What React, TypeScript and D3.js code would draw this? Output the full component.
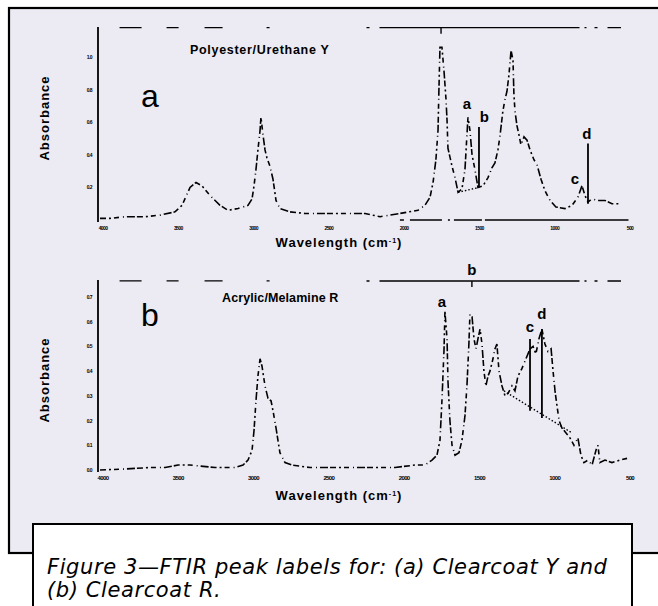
import React from "react";
import * as d3 from "d3";

const waveTicks = [4000, 3500, 3000, 2500, 2000, 1500, 1000, 500];
const absTicksA = [0.2, 0.4, 0.6, 0.8, 1.0];
const absTicksB = [0, 0.1, 0.2, 0.3, 0.4, 0.5, 0.6, 0.7];

// Panel a: Polyester/Urethane Y  [wavenumber, absorbance]
const specA: [number, number][] = [
  [4020, 0.01], [3954, 0.01], [3854, 0.02], [3721, 0.02], [3621, 0.03], [3522, 0.05],
  [3475, 0.09], [3422, 0.2], [3382, 0.23], [3343, 0.21], [3289, 0.15], [3223, 0.09],
  [3170, 0.06], [3103, 0.07], [3037, 0.09], [3010, 0.13], [2997, 0.21], [2984, 0.31],
  [2971, 0.43], [2957, 0.55], [2951, 0.63], [2937, 0.52], [2924, 0.43], [2911, 0.38],
  [2891, 0.33], [2871, 0.25], [2851, 0.12], [2825, 0.07], [2758, 0.05], [2659, 0.04],
  [2559, 0.04], [2459, 0.04], [2360, 0.04], [2260, 0.04], [2160, 0.02], [2028, 0.04],
  [1908, 0.06], [1862, 0.09], [1828, 0.14], [1808, 0.23], [1789, 0.37], [1775, 0.55],
  [1769, 0.8], [1762, 1.06], [1749, 1.06], [1735, 0.91], [1722, 0.74], [1715, 0.61],
  [1709, 0.44], [1682, 0.33], [1662, 0.26], [1642, 0.17], [1616, 0.19], [1596, 0.31],
  [1583, 0.52], [1576, 0.63], [1563, 0.55], [1549, 0.4], [1530, 0.31], [1510, 0.2],
  [1476, 0.21], [1443, 0.26], [1417, 0.32], [1397, 0.35], [1377, 0.43], [1363, 0.52],
  [1344, 0.67], [1330, 0.74], [1317, 0.79], [1304, 0.89], [1290, 1.04], [1277, 0.98],
  [1271, 0.77], [1264, 0.67], [1251, 0.58], [1237, 0.52], [1224, 0.46], [1204, 0.51],
  [1184, 0.49], [1164, 0.43], [1138, 0.37], [1118, 0.34], [1091, 0.25], [1065, 0.18],
  [1031, 0.12], [992, 0.08], [932, 0.07], [885, 0.09], [846, 0.14], [819, 0.21],
  [799, 0.15], [779, 0.11], [752, 0.13], [713, 0.12], [666, 0.12], [620, 0.1], [567, 0.1],
];

// Panel b: Acrylic/Melamine R
const specB: [number, number][] = [
  [4020, 0], [3854, 0.004], [3688, 0.01], [3588, 0.01], [3502, 0.02], [3422, 0.02],
  [3256, 0.01], [3123, 0.01], [3070, 0.02], [3037, 0.04], [3010, 0.08], [2997, 0.16],
  [2984, 0.28], [2971, 0.38], [2957, 0.45], [2944, 0.42], [2924, 0.34], [2904, 0.29],
  [2884, 0.28], [2871, 0.24], [2851, 0.17], [2838, 0.12], [2825, 0.07], [2791, 0.03],
  [2745, 0.02], [2625, 0.01], [2492, 0.01], [2326, 0.01], [2194, 0.01], [2061, 0.01],
  [1928, 0.02], [1862, 0.02], [1815, 0.04], [1782, 0.06], [1762, 0.12], [1749, 0.28],
  [1735, 0.49], [1729, 0.64], [1715, 0.53], [1709, 0.36], [1696, 0.2], [1682, 0.1],
  [1662, 0.06], [1636, 0.07], [1616, 0.12], [1596, 0.22], [1583, 0.34], [1570, 0.51],
  [1563, 0.63], [1549, 0.62], [1536, 0.53], [1523, 0.49], [1510, 0.53], [1496, 0.57],
  [1483, 0.51], [1470, 0.4], [1457, 0.34], [1443, 0.38], [1430, 0.4], [1410, 0.45],
  [1397, 0.49], [1384, 0.51], [1370, 0.4], [1350, 0.34], [1330, 0.3], [1310, 0.31],
  [1284, 0.34], [1264, 0.32], [1244, 0.38], [1218, 0.41], [1191, 0.45], [1164, 0.49],
  [1144, 0.5], [1125, 0.47], [1105, 0.53], [1085, 0.57], [1065, 0.51], [1045, 0.48],
  [1024, 0.49], [1011, 0.4], [998, 0.32], [985, 0.26], [971, 0.2], [952, 0.17],
  [925, 0.15], [899, 0.13], [872, 0.1], [846, 0.13], [826, 0.06], [806, 0.03],
  [779, 0.04], [752, 0.02], [726, 0.08], [713, 0.1], [700, 0.03], [666, 0.04],
  [620, 0.03], [567, 0.04], [500, 0.05],
];

// peak marker lines: label, wavenumber, top absorbance, base absorbance
const markersA = [
  { label: "b", wave: 1503, top: 0.57, base: 0.2 },
  { label: "d", wave: 779, top: 0.47, base: 0.1 },
];
const markersB = [
  { label: "c", wave: 1164, top: 0.53, base: 0.24 },
  { label: "d", wave: 1085, top: 0.57, base: 0.21 },
];
const peakLabelsA = [
  { label: "a", wave: 1583, abs: 0.68 },
  { label: "b", wave: 1468, abs: 0.6 },
  { label: "c", wave: 865, abs: 0.22 },
  { label: "d", wave: 786, abs: 0.5 },
];
const peakLabelsB = [
  { label: "a", wave: 1749, abs: 0.66 },
  { label: "b", wave: 1550, abs: 0.79 },
  { label: "c", wave: 1164, abs: 0.56 },
  { label: "d", wave: 1085, abs: 0.61 },
];
const baselineA: [number, number][] = [[1642, 0.17], [1503, 0.2]];
const baselineB: [number, number][] = [[1337, 0.32], [885, 0.15]];

const titleA = "Polyester/Urethane Y";
const titleB = "Acrylic/Melamine R";
const captionLines = [
  "Figure 3—FTIR peak labels for: (a) Clearcoat Y and",
  "(b) Clearcoat R.",
];

const W = 658;
const H = 606;
const BOLD = "'Liberation Sans', Arial, sans-serif";

export default function App() {
  const x = d3.scaleLinear().domain([4000, 500]).range([103, 630]);
  const yA = d3.scaleLinear().domain([0, 1]).range([220, 57]);
  const yB = d3.scaleLinear().domain([0, 0.7]).range([470, 297]);

  const lineA = d3.line<[number, number]>().x((d) => x(d[0])).y((d) => yA(d[1]));
  const lineB = d3.line<[number, number]>().x((d) => x(d[0])).y((d) => yB(d[1]));

  const specDash = "6,3,2,3,5,4,1,3,8,2";

  const panel = (
    key: string,
    y: d3.ScaleLinear<number, number>,
    line: d3.Line<[number, number]>,
    spec: [number, number][],
    absTicks: number[],
    yTop: number,
    absCenter: number,
    title: string,
    titleX: number,
    titleY: number,
    titleSpacing: number,
    big: string,
    bigY: number,
    markers: typeof markersA,
    labels: typeof peakLabelsA,
    baseline: [number, number][],
    topAbs: number,
    bracketWave: number,
    bottomLine: boolean,
    waveLabelY: number,
    tickFont: number
  ) => {
    const y0 = y(0);
    const yT = y(topAbs);
    return (
      <g key={key}>
        {/* y axis */}
        <line x1={98} x2={98} y1={yTop} y2={y0 + 2} stroke="#000" strokeWidth={1.8} />
        {absTicks.map((t) => (
          <text
            key={t}
            x={92}
            y={y(t) + 2}
            textAnchor="end"
            fontSize={5}
            fontWeight="bold"
            fontFamily={BOLD}
            letterSpacing={-0.6}
            fill="#000"
          >
            {t.toFixed(1)}
          </text>
        ))}
        <text
          transform={`translate(49,${absCenter}) rotate(-90)`}
          textAnchor="middle"
          fontSize={13}
          fontWeight="bold"
          fontFamily={BOLD}
          letterSpacing={1}
          fill="#000"
        >
          Absorbance
        </text>
        {/* top frame line (broken) */}
        <line
          x1={x(3890)}
          x2={x(2870)}
          y1={yT}
          y2={yT}
          stroke="#000"
          strokeWidth={1.3}
          strokeDasharray="22,25,12,26,18,44,3,200"
        />
        <line
          x1={x(2250)}
          x2={x(560)}
          y1={yT}
          y2={yT}
          stroke="#000"
          strokeWidth={1.4}
          strokeDasharray="3,10,200,5,2,8"
        />
        <line
          x1={x(bracketWave)}
          x2={x(bracketWave)}
          y1={yT}
          y2={yT + 6}
          stroke="#000"
          strokeWidth={1.4}
        />
        {/* bottom axis */}
        {bottomLine && (
          <line
            x1={x(2028)}
            x2={x(510)}
            y1={y0}
            y2={y0}
            stroke="#000"
            strokeWidth={1.4}
            strokeDasharray="4,6,32,6,2,4,28,3,200"
          />
        )}
        {waveTicks.map((t) => (
          <text
            key={t}
            x={x(t)}
            y={y0 + 10}
            textAnchor="middle"
            fontSize={tickFont}
            fontWeight="bold"
            fontFamily={BOLD}
            letterSpacing={-0.6}
            fill="#000"
          >
            {t}
          </text>
        ))}
        <text
          x={339}
          y={waveLabelY}
          textAnchor="middle"
          fontSize={13}
          fontWeight="bold"
          fontFamily={BOLD}
          letterSpacing={1}
          fill="#000"
        >
          Wavelength (cm
          <tspan dy={-4} fontSize={7}>-1</tspan>
          <tspan dy={4}>)</tspan>
        </text>
        {/* title & big letter */}
        <text
          x={titleX}
          y={titleY}
          fontSize={12.5}
          fontWeight="bold"
          fontFamily={BOLD}
          letterSpacing={titleSpacing}
          fill="#000"
        >
          {title}
        </text>
        <text x={150} y={bigY} textAnchor="middle" fontSize={32} fontFamily={BOLD} fill="#000">
          {big}
        </text>
        {/* spectrum */}
        <path
          d={line(spec) || ""}
          fill="none"
          stroke="#000"
          strokeWidth={1.6}
          strokeDasharray={specDash}
        />
        <path
          d={line(baseline) || ""}
          fill="none"
          stroke="#000"
          strokeWidth={1.4}
          strokeDasharray="1.5,2"
        />
        {markers.map((m) => (
          <line
            key={m.label}
            x1={x(m.wave)}
            x2={x(m.wave)}
            y1={y(m.top)}
            y2={y(m.base)}
            stroke="#000"
            strokeWidth={1.8}
          />
        ))}
        {labels.map((l) => (
          <text
            key={l.label}
            x={x(l.wave)}
            y={y(l.abs)}
            textAnchor="middle"
            fontSize={15}
            fontWeight="bold"
            fontFamily={BOLD}
            fill="#000"
          >
            {l.label}
          </text>
        ))}
      </g>
    );
  };

  return (
    <svg
      width={W}
      height={H}
      viewBox={`0 0 ${W} ${H}`}
      style={{ position: "absolute", left: 0, top: 0, background: "#fff" }}
    >
      <rect x={9} y={8} width={720} height={545} fill="#ECEBF3" stroke="#000" strokeWidth={2.2} />
      {panel("a", yA, lineA, specA, absTicksA, 27, 118, titleA, 190, 54, 0.7, "a", 107, markersA,
        peakLabelsA, baselineA, 1.18, 1755, true, 247, 5)}
      {panel("b", yB, lineB, specB, absTicksB, 280, 380, titleB, 222, 302, 0.1, "b", 326, markersB,
        peakLabelsB, baselineB, 0.765, 1550, false, 500, 6)}
      <rect x={33} y={524} width={599} height={90} fill="#fff" stroke="#000" strokeWidth={2} />
      <text
        fontSize={21}
        fontStyle="italic"
        fontFamily="'DejaVu Sans', sans-serif"
        letterSpacing={0.6}
        fill="#000"
      >
        {captionLines.map((t, i) => (
          <tspan key={i} x={47} y={574 + i * 23}>
            {t}
          </tspan>
        ))}
      </text>
    </svg>
  );
}
